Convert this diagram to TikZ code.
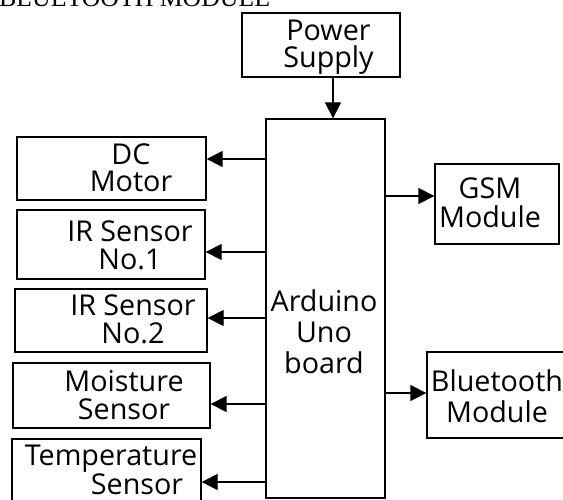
\documentclass[tikz,border=0pt]{standalone}
\usepackage{fontspec}
\setmainfont{Open Sans}
\newfontfamily\hdrfont{Liberation Serif}
\usetikzlibrary{arrows.meta}
\tikzset{
  blk/.style={draw,line width=1.1pt,inner sep=0pt},
  lbl/.style={align=center,inner sep=0pt,font=\fontsize{24.5}{#1}\selectfont},
  lbl/.default=24,
  arr/.style={line width=1.1pt,-{Triangle[length=4.8mm,width=4.8mm]}},
}

\begin{document}
\begin{tikzpicture}[x=0.03cm,y=-0.03cm]
  \useasboundingbox (0,0) rectangle (563,499);
  % ===== heading, cut off at the top =====
  \node[anchor=base west,inner sep=0pt,font=\hdrfont\fontsize{22}{24}\selectfont] (hdr) at (-1,6){BLUETOOTH MODULE};

  % ===== centre column =====
  \node[blk,minimum width=4.74cm,minimum height=1.92cm] (pwr) at (321,45){};
  \node[lbl=23] (pwrt) at (328.5,47.5){Power\\Supply};
  \node[blk,minimum width=3.57cm,minimum height=11.37cm] (ard) at (325.5,308.5){};
  \node[lbl=26.4] (ardt) at (324,331.5){Arduino\\Uno\\board};
  \draw[arr] (pwr.south -| 333,0) -- (ard.north -| 333,0);

  % ===== outputs on the left =====
  \node[blk,minimum width=5.67cm,minimum height=1.89cm] (dc) at (111.5,168.5){};
  \node[lbl=23] (dct) at (131,168){DC\\Motor};
  \node[blk,minimum width=5.64cm,minimum height=2.07cm] (ir1) at (111,244.5){};
  \node[lbl=23.8] (ir1t) at (130,245){IR Sensor\\No.1};
  \node[blk,minimum width=5.76cm,minimum height=1.89cm] (ir2) at (111,320.5){};
  \node[lbl=23.8] (ir2t) at (133,319.5){IR Sensor\\No.2};
  \node[blk,minimum width=5.91cm,minimum height=1.95cm] (moist) at (111.5,395.5){};
  \node[lbl=23.8] (moistt) at (124,395){Moisture\\Sensor};
  \node[blk,minimum width=5.67cm,minimum height=2.1cm] (temp) at (106.5,474){};
  \node[lbl=23] (tempt) at (111,470){Temperature\\\hspace*{1.56cm}Sensor};
  \draw[arr] (ard.west |- 0,159) -- (dc.east |- 0,159);
  \draw[arr] (ard.west |- 0,252) -- (ir1.east |- 0,252);
  \draw[arr] (ard.west |- 0,318) -- (ir2.east |- 0,318);
  \draw[arr] (ard.west |- 0,404) -- (moist.east |- 0,404);
  \draw[arr] (ard.west |- 0,482) -- (temp.east |- 0,482);

  % ===== outputs on the right =====
  \node[blk,minimum width=3.72cm,minimum height=2.4cm] (gsm) at (497,204){};
  \node[lbl=24.7] (gsmt) at (490,202.5){GSM\\Module};
  \node[blk,minimum width=4.29cm,minimum height=2.58cm] (bt) at (498.5,395){};
  \node[lbl=26.4] (btt) at (497,396){Bluetooth\\Module};
  \draw[arr] (ard.east |- 0,196) -- (gsm.west |- 0,196);
  \draw[arr] (ard.east |- 0,393) -- (bt.west |- 0,393);
\end{tikzpicture}
\end{document}
